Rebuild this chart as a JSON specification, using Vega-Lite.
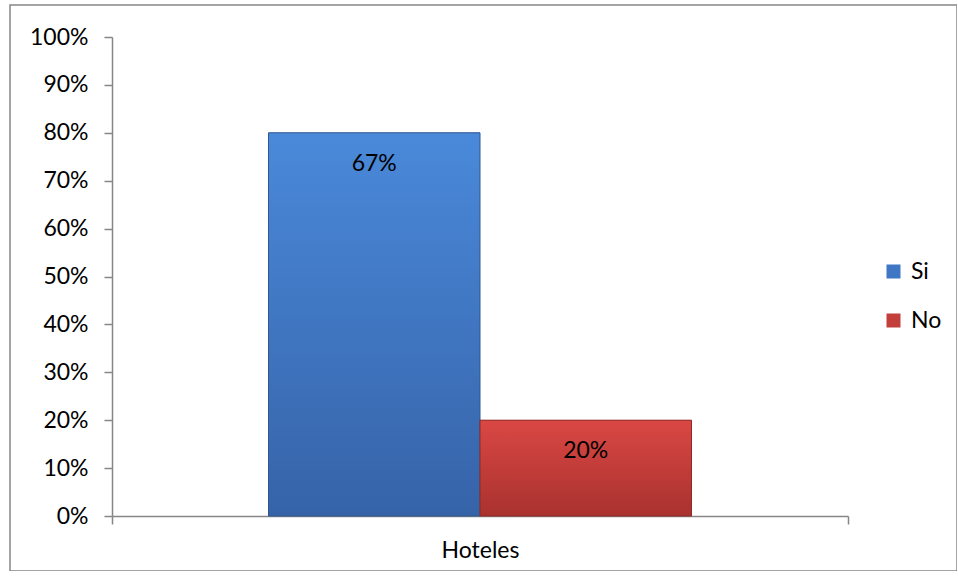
{
  "$schema": "https://vega.github.io/schema/vega-lite/v6.json",
  "autosize": {"type": "none"},
  "padding": {"left": 10, "top": 5, "right": 0, "bottom": 0},
  "width": 947,
  "height": 566,
  "background": "white",
  "config": {
    "view": {"stroke": "#868686", "strokeWidth": 1.5},
    "font": "Lato",
    "axis": {"grid": false, "domainColor": "#868686", "tickColor": "#868686", "domainWidth": 1.5, "tickWidth": 1.5, "labelColor": "#000000", "labelFont": "Lato", "labelFontSize": 23, "title": null, "tickSize": 8}
  },
  "data": {"values": [
    {"cat": "Hoteles", "series": "Si", "value": 0.8, "label": "67%"},
    {"cat": "Hoteles", "series": "No", "value": 0.2, "label": "20%"}
  ]},
  "encoding": {
    "x": {"field": "cat", "type": "nominal", "scale": {"range": [102, 838], "paddingInner": 0, "paddingOuter": 0},
      "axis": {"orient": "bottom", "offset": -55, "tickBand": "extent", "labelAngle": 0, "labelPadding": 15}},
    "xOffset": {"field": "series", "type": "nominal", "sort": ["Si", "No"], "scale": {"paddingInner": 0, "paddingOuter": 0.74}},
    "y": {"field": "value", "type": "quantitative", "scale": {"domain": [0, 1], "range": [511, 32], "nice": false, "zero": true},
      "axis": {"orient": "left", "offset": -102, "values": [0, 0.1, 0.2, 0.3, 0.4, 0.5, 0.6, 0.7, 0.8, 0.9, 1], "format": ".0%", "labelPadding": 16}}
  },
  "layer": [
    {
      "mark": {"type": "bar"},
      "encoding": {
        "color": {"field": "series", "type": "nominal", "sort": ["Si", "No"],
          "scale": {"domain": ["Si", "No"], "range": ["#3f77c4", "#c33f3c"]},
          "legend": {"title": null, "orient": "none", "legendX": 872, "legendY": 255, "symbolType": "square", "symbolSize": 196, "symbolStrokeWidth": 0, "labelFontSize": 23, "labelFont": "Lato", "rowPadding": 25, "labelOffset": 6}}
      }
    },
    {
      "mark": {"type": "bar", "strokeWidth": 1},
      "encoding": {
        "fill": {"condition": {"test": "datum.series === 'Si'", "value": {"gradient": "linear", "x1": 0, "y1": 0, "x2": 0, "y2": 1, "stops": [{"offset": 0, "color": "#4a89da"}, {"offset": 1, "color": "#3663a8"}]}},
          "value": {"gradient": "linear", "x1": 0, "y1": 0, "x2": 0, "y2": 1, "stops": [{"offset": 0, "color": "#da4744"}, {"offset": 1, "color": "#a9322f"}]}},
        "stroke": {"condition": {"test": "datum.series === 'Si'", "value": "#2f5890"}, "value": "#8e2a27"}
      }
    },
    {
      "mark": {"type": "text", "baseline": "middle", "dy": 31, "fontSize": 23, "font": "Lato", "color": "#000000"},
      "encoding": {"text": {"field": "label"}}
    }
  ]
}
